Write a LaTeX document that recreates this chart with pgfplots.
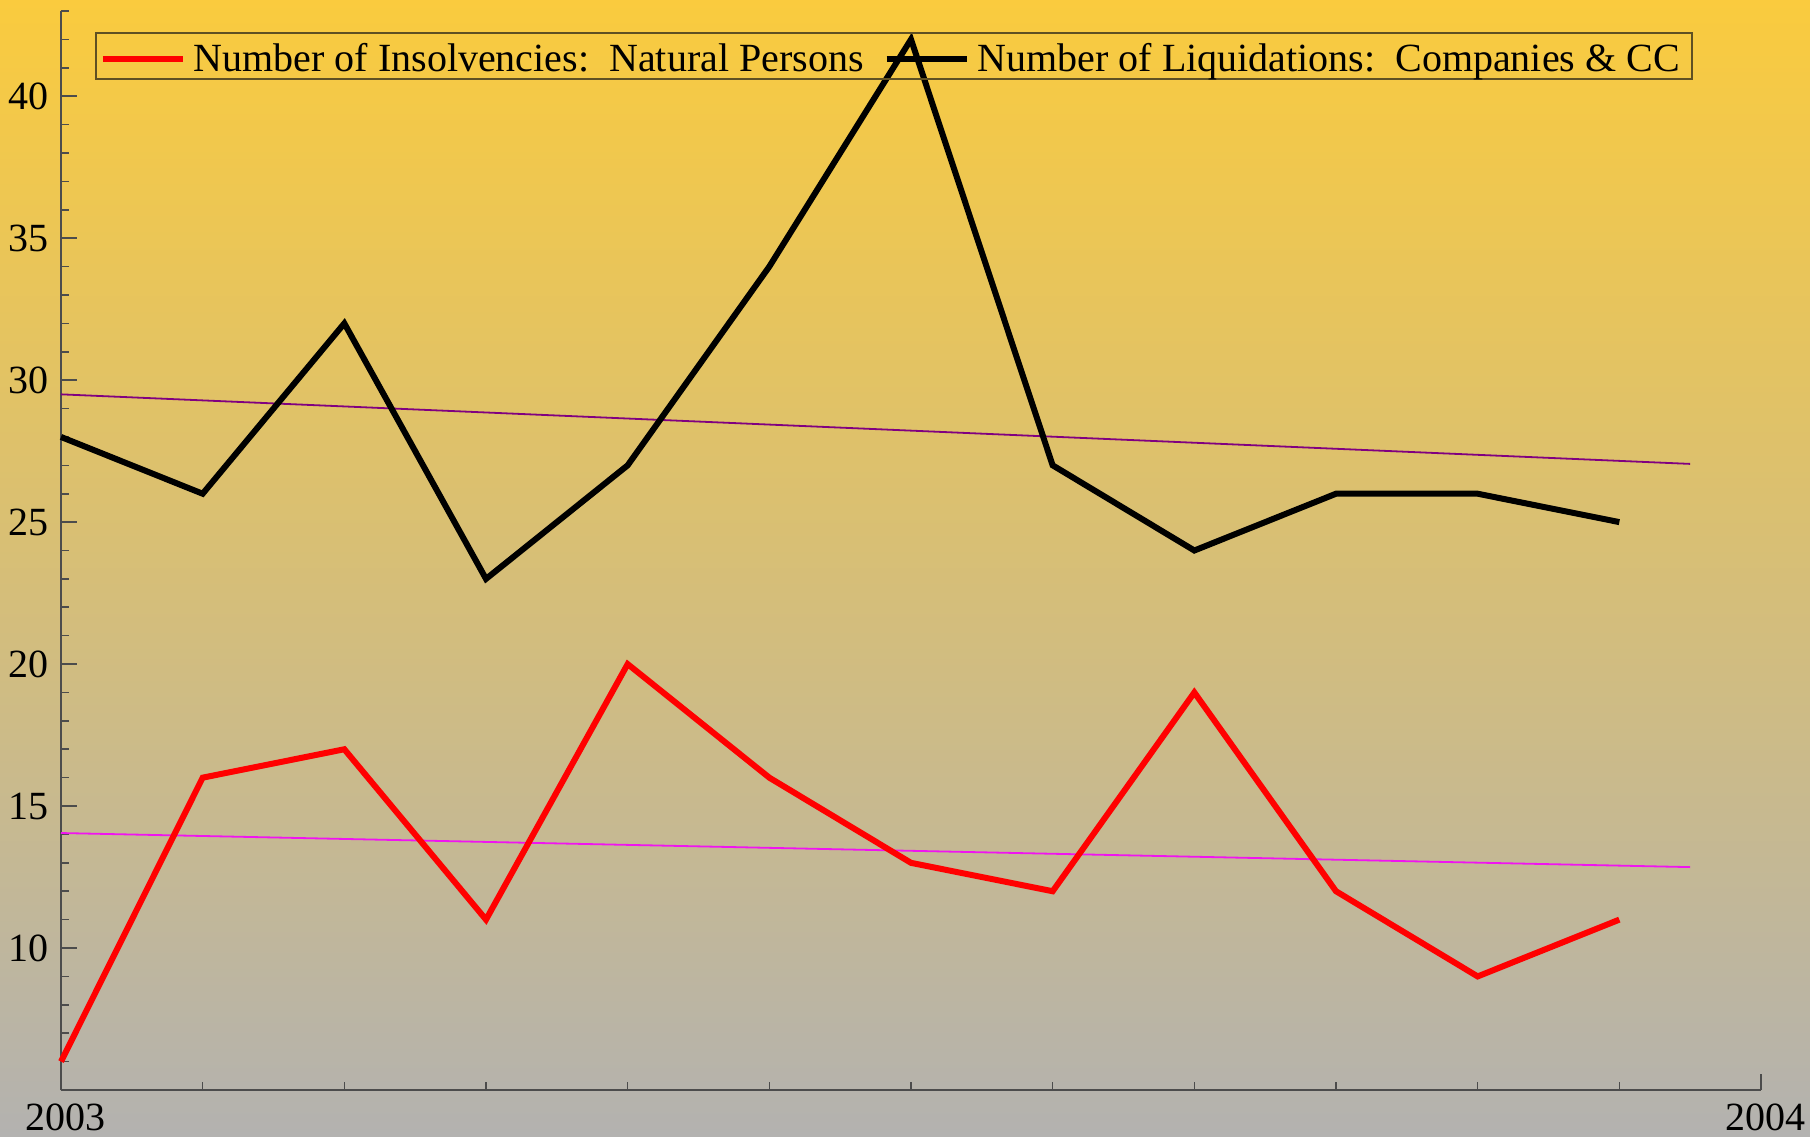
\documentclass[border=0pt]{standalone}
\usepackage{pgfplots}
\pgfplotsset{compat=1.18}
\usepackage{fontspec}
\setmainfont{Liberation Serif}
\definecolor{bgtop}{RGB}{250,203,62}
\definecolor{bgmid}{RGB}{214,190,138}
\definecolor{bgbot}{RGB}{179,178,176}
\definecolor{trendA}{RGB}{128,0,128}
\definecolor{trendB}{RGB}{240,20,240}
\definecolor{legframe}{RGB}{95,80,35}
\begin{document}
\begin{tikzpicture}
\shade[top color=bgtop, middle color=bgmid, bottom color=bgbot] (-15.25pt,-11.5pt) rectangle (437.25pt,272.5pt);
\begin{axis}[
  at={(0pt,0pt)}, anchor=south west,
  scale only axis, width=425pt, height=269.75pt,
  xmin=0, xmax=12, ymin=5, ymax=43,
  axis lines=left,
  axis line style={-, black!70, line width=0.5pt},
  xtick={0,12}, xticklabels={2003,2004},
  minor xtick={1,2,3,4,5,6,7,8,9,10,11},
  ytick={10,15,20,25,30,35,40},
  minor ytick={6,7,8,9,11,12,13,14,16,17,18,19,21,22,23,24,26,27,28,29,31,32,33,34,36,37,38,39,41,42,43},
  tick align=inside,
  major tick length=4pt, minor tick length=2pt,
  every tick/.style={black!70, line width=0.4pt},
  /pgf/number format/assume math mode=true,
  ticklabel style={font=\fontsize{10}{12}\selectfont},
  yticklabel style={xshift=0.5pt},
  xticklabel style={xshift=1pt},
  clip=false,
  legend columns=2,
  legend style={at={(0.02,0.9805)}, anchor=north west, draw=legframe, line width=0.4pt, fill=none,
    font=\fontsize{10}{12}\selectfont, inner xsep=1pt, inner ysep=0pt,
    nodes={inner ysep=0.3pt, text height=9.3pt, text depth=1.6pt},
    /tikz/every even column/.append style={column sep=3pt}},
  legend image code/.code={\draw[#1] (0pt,-0.7pt) -- (20pt,-0.7pt);},
]
\addplot[trendA, line width=0.45pt, forget plot] coordinates {(0,29.5) (11.5,27.05)};
\addplot[trendB, line width=0.45pt, forget plot] coordinates {(0,14.05) (11.5,12.85)};
\addplot[red, line width=1.5pt] coordinates {
(0,6) (1,16) (2,17) (3,11) (4,20) (5,16) (6,13) (7,12) (8,19) (9,12) (10,9) (11,11)};
\addlegendentry{Number of Insolvencies:\ \ Natural Persons}
\addplot[black, line width=1.5pt] coordinates {
(0,28) (1,26) (2,32) (3,23) (4,27) (5,34) (6,42) (7,27) (8,24) (9,26) (10,26) (11,25)};
\addlegendentry{Number of Liquidations:\ \ Companies \& CC}
\end{axis}
\pgfresetboundingbox
\useasboundingbox (-15.25pt,-11.5pt) rectangle (437.25pt,272.5pt);
\end{tikzpicture}
\end{document}
